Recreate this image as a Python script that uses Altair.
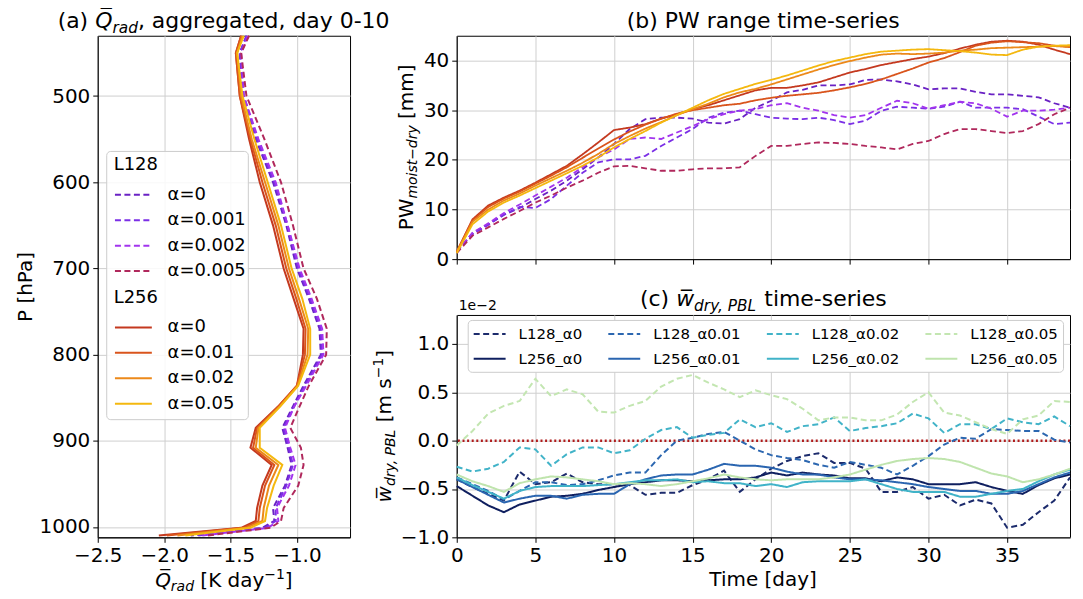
import altair as alt
import pandas as pd

FONT = "DejaVu Sans"

# ---------------- Panel (a): radiative heating profiles ----------------
pressure = [430, 450, 500, 550, 600, 650, 700, 735, 770, 800, 836, 860, 885, 908, 928, 952, 978, 993, 1001, 1010]
L128_labels = ["α=0", "α=0.001", "α=0.002", "α=0.005"]
L256_labels = ["α=0", "α=0.01", "α=0.02", "α=0.05"]
L128_colors = ["#6a22c4", "#7b2fe6", "#a234ee", "#b0285c"]
L256_colors = ["#c4391f", "#d9541c", "#ec891a", "#f4b80f"]

qrad_L128_a0 = [-1.38, -1.43, -1.41, -1.31, -1.18, -1.08, -1.00, -0.91, -0.83, -0.82, -0.95, -1.03, -1.11, -1.07, -1.04, -1.09, -1.18, -1.17, -1.26, -1.80]
qrad_L128_a001 = [-1.38, -1.43, -1.40, -1.30, -1.17, -1.07, -0.99, -0.90, -0.82, -0.81, -0.94, -1.02, -1.10, -1.06, -1.03, -1.08, -1.16, -1.16, -1.24, -1.75]
qrad_L128_a002 = [-1.37, -1.42, -1.40, -1.29, -1.16, -1.07, -0.98, -0.89, -0.81, -0.80, -0.93, -1.02, -1.09, -1.05, -1.01, -1.06, -1.15, -1.14, -1.22, -1.72]
qrad_L128_a005 = [-1.36, -1.42, -1.38, -1.245, -1.12, -1.03, -0.95, -0.85, -0.775, -0.78, -0.91, -0.98, -1.05, -0.97, -0.95, -0.99, -1.10, -1.12, -1.20, -1.68]

qrad_L256_a0 = [-1.42, -1.46, -1.43, -1.36, -1.28, -1.18, -1.10, -1.025, -0.95, -0.955, -1.00, -1.14, -1.31, -1.35, -1.19, -1.26, -1.30, -1.31, -1.42, -2.04]
qrad_L256_a001 = [-1.42, -1.46, -1.43, -1.35, -1.26, -1.16, -1.08, -1.005, -0.935, -0.94, -1.00, -1.14, -1.30, -1.33, -1.17, -1.24, -1.28, -1.29, -1.40, -1.98]
qrad_L256_a002 = [-1.41, -1.45, -1.42, -1.34, -1.24, -1.14, -1.06, -0.985, -0.915, -0.92, -0.995, -1.13, -1.29, -1.31, -1.14, -1.21, -1.25, -1.26, -1.38, -1.90]
qrad_L256_a005 = [-1.40, -1.45, -1.41, -1.32, -1.22, -1.12, -1.04, -0.96, -0.90, -0.90, -0.99, -1.125, -1.28, -1.28, -1.11, -1.175, -1.225, -1.24, -1.35, -1.84]

# ---------------- Panel (b): PW range time series ----------------
days = list(range(40))
pw_L128_a0 = [1.5, 5.2, 7.0, 8.9, 10.3, 12.1, 13.8, 15.8, 18.1, 20.5, 23.2, 26.2, 28.2, 28.5, 28.5, 28.3, 27.5, 27.3, 28.2, 30.5,
              31.9, 33.6, 34.1, 35.0, 35.0, 35.2, 36.1, 36.2, 35.8, 35.2, 34.2, 34.4, 34.4, 33.7, 33.2, 33.2, 32.9, 32.6, 31.4, 30.5]
pw_L128_a001 = [1.5, 5.0, 6.9, 9.0, 10.5, 10.3, 12.1, 14.8, 17.4, 19.5, 20.1, 20.1, 20.8, 22.8, 24.5, 26.2, 28.5, 29.5, 29.9, 29.2,
                28.5, 28.3, 28.2, 28.5, 28.0, 27.2, 27.9, 29.9, 30.7, 30.5, 30.3, 30.7, 31.7, 30.5, 30.5, 30.5, 30.2, 28.7, 27.2, 27.5]
pw_L128_a002 = [1.5, 5.3, 7.2, 9.3, 11.0, 12.8, 14.6, 16.4, 18.5, 20.5, 22.1, 24.2, 24.5, 24.2, 25.5, 26.8, 28.2, 29.2, 29.9, 30.2,
                31.0, 31.4, 30.5, 29.9, 29.0, 28.5, 29.0, 30.5, 31.9, 31.4, 30.3, 31.0, 31.7, 31.4, 30.3, 28.7, 29.9, 29.9, 30.1, 30.5]
pw_L128_a005 = [1.2, 4.7, 6.4, 8.1, 9.7, 11.4, 12.8, 14.4, 15.8, 17.4, 18.7, 18.8, 18.3, 17.8, 17.8, 18.1, 18.3, 18.3, 18.5, 20.8,
                22.8, 22.8, 23.2, 23.5, 23.4, 23.2, 22.8, 22.5, 22.1, 23.2, 23.8, 25.2, 26.2, 26.2, 25.8, 25.4, 25.8, 27.2, 29.2, 30.5]
pw_L256_a0 = [1.5, 8.0, 10.8, 12.4, 13.8, 15.4, 17.1, 18.8, 21.1, 23.5, 26.0, 26.5, 27.2, 28.3, 29.2, 30.2, 31.0, 32.0, 33.0, 34.0,
              34.5, 34.5, 35.0, 35.6, 36.6, 37.6, 38.3, 39.1, 39.7, 40.3, 40.8, 41.5, 42.4, 43.2, 43.8, 44.0, 43.8, 43.2, 42.2, 41.3]
pw_L256_a001 = [1.5, 7.8, 10.5, 12.2, 13.6, 15.2, 16.8, 18.5, 20.4, 22.3, 24.1, 25.7, 27.1, 28.3, 29.3, 30.0, 30.5, 31.0, 31.3, 32.0,
                32.5, 32.9, 33.2, 33.5, 34.0, 34.6, 35.3, 36.2, 37.3, 38.4, 39.6, 40.5, 41.7, 43.0, 43.6, 43.9, 43.7, 43.5, 43.0, 42.7]
pw_L256_a002 = [1.5, 7.5, 10.0, 11.8, 13.2, 14.8, 16.3, 17.8, 19.4, 21.2, 23.2, 24.8, 26.3, 27.6, 29.0, 30.2, 31.3, 32.6, 33.6, 34.3,
                35.2, 36.2, 37.2, 38.2, 39.1, 39.9, 40.6, 41.2, 41.4, 41.3, 41.4, 41.6, 42.0, 42.2, 42.5, 42.6, 42.7, 42.8, 42.9, 42.8]
pw_L256_a005 = [1.2, 7.0, 9.6, 11.4, 12.8, 14.3, 15.8, 17.3, 18.8, 20.5, 22.5, 24.2, 25.8, 27.5, 29.0, 30.5, 32.0, 33.3, 34.3, 35.3,
                36.1, 37.0, 38.0, 39.0, 39.9, 40.6, 41.3, 41.8, 42.0, 42.2, 42.3, 42.1, 41.9, 41.6, 41.2, 41.1, 42.2, 42.8, 43.0, 43.1]

# ---------------- Panel (c): w_dry,PBL time series (x 1e-2) ----------------
# legend order (column-major fill): alpha columns, L128 on top, L256 below
wc_names = ["L128_α0", "L256_α0", "L128_α0.01", "L256_α0.01",
            "L128_α0.02", "L256_α0.02", "L128_α0.05", "L256_α0.05"]
wc_colors = ["#1c2b6c", "#0f1f5f", "#2c67b0", "#2a65b0",
             "#41b3c8", "#40b3c8", "#c3e6b1", "#bfe4ad"]
wc_dash_names = ["L128_α0", "L128_α0.01", "L128_α0.02", "L128_α0.05"]
w_L128_a0 = [-0.40, -0.48, -0.55, -0.62, -0.32, -0.45, -0.43, -0.34, -0.43, -0.45, -0.45, -0.46, -0.56, -0.54, -0.54, -0.46, -0.40, -0.31, -0.53, -0.40,
             -0.29, -0.21, -0.16, -0.13, -0.23, -0.23, -0.29, -0.53, -0.53, -0.48, -0.60, -0.56, -0.67, -0.61, -0.65, -0.90, -0.87, -0.74, -0.62, -0.38]
w_L128_a001 = [-0.38, -0.45, -0.52, -0.61, -0.52, -0.43, -0.43, -0.46, -0.45, -0.41, -0.36, -0.33, -0.33, -0.15, 0.00, 0.03, 0.07, 0.09, 0.00, -0.09,
               -0.15, -0.18, -0.20, -0.25, -0.28, -0.22, -0.25, -0.28, -0.35, -0.26, -0.16, -0.04, 0.03, 0.02, 0.12, 0.11, 0.10, 0.10, 0.01, -0.02]
w_L128_a002 = [-0.27, -0.32, -0.29, -0.22, -0.07, -0.09, -0.26, -0.14, -0.07, -0.07, -0.13, -0.10, 0.02, 0.11, 0.14, 0.03, 0.06, 0.08, 0.22, 0.14,
               0.18, 0.09, 0.15, 0.17, 0.24, 0.10, 0.13, 0.15, 0.18, 0.28, 0.23, 0.08, 0.17, 0.17, 0.12, 0.23, 0.19, 0.17, 0.25, 0.15]
w_L128_a005 = [-0.05, 0.10, 0.28, 0.36, 0.41, 0.64, 0.46, 0.53, 0.48, 0.30, 0.29, 0.36, 0.41, 0.56, 0.64, 0.68, 0.60, 0.53, 0.45, 0.52,
               0.47, 0.43, 0.33, 0.21, 0.24, 0.24, 0.21, 0.21, 0.27, 0.40, 0.50, 0.29, 0.26, 0.19, 0.12, 0.07, 0.22, 0.26, 0.41, 0.40]
w_L256_a0 = [-0.47, -0.57, -0.67, -0.74, -0.66, -0.62, -0.58, -0.57, -0.55, -0.51, -0.48, -0.45, -0.43, -0.41, -0.41, -0.42, -0.41, -0.40, -0.40, -0.38,
             -0.33, -0.36, -0.33, -0.35, -0.36, -0.39, -0.39, -0.42, -0.38, -0.40, -0.45, -0.45, -0.45, -0.43, -0.48, -0.52, -0.55, -0.46, -0.39, -0.35]
w_L256_a001 = [-0.40, -0.48, -0.56, -0.64, -0.60, -0.57, -0.57, -0.60, -0.56, -0.55, -0.55, -0.45, -0.40, -0.36, -0.35, -0.35, -0.30, -0.24, -0.26, -0.26,
               -0.28, -0.32, -0.35, -0.35, -0.38, -0.40, -0.40, -0.41, -0.43, -0.45, -0.48, -0.50, -0.52, -0.52, -0.55, -0.55, -0.52, -0.45, -0.38, -0.33]
w_L256_a002 = [-0.38, -0.46, -0.53, -0.60, -0.52, -0.48, -0.47, -0.47, -0.47, -0.46, -0.45, -0.43, -0.41, -0.41, -0.40, -0.43, -0.42, -0.44, -0.44, -0.47,
               -0.45, -0.48, -0.43, -0.42, -0.42, -0.42, -0.40, -0.45, -0.50, -0.53, -0.53, -0.53, -0.58, -0.58, -0.55, -0.52, -0.50, -0.42, -0.35, -0.30]
w_L256_a005 = [-0.35, -0.42, -0.47, -0.53, -0.44, -0.40, -0.37, -0.38, -0.40, -0.42, -0.45, -0.44, -0.45, -0.47, -0.45, -0.42, -0.39, -0.35, -0.38, -0.40,
               -0.41, -0.40, -0.40, -0.40, -0.38, -0.35, -0.30, -0.25, -0.21, -0.19, -0.18, -0.19, -0.22, -0.28, -0.34, -0.37, -0.43, -0.40, -0.35, -0.29]

DASH = [6, 3.5]
SOLID = [1, 0]

# ---------------- helpers ----------------
W = {' ': .318, '(': .390, ')': .390, ',': .318, '-': .361, '.': .318, '[': .390, ']': .390,
     'a': .613, 'b': .635, 'c': .550, 'd': .635, 'e': .615, 'g': .635, 'h': .634, 'i': .278,
     'k': .579, 'l': .278, 'm': .974, 'n': .634, 'o': .612, 'p': .635, 'r': .411, 's': .521,
     't': .392, 'u': .634, 'w': .818, 'y': .592, 'B': .686, 'K': .656, 'L': .557, 'P': .603,
     'Q': .787, 'T': .611, 'W': .989, '−': .838, '=': .838, 'α': .659, '\u0305': 0.0}
for ch in "0123456789":
    W[ch] = .636


def tw(s, fs):
    return sum(W.get(c, 0.6) for c in s) * fs


ONE = alt.Data(values=[{"k": 0}])


def seg_texts(segs, x, y, angle=0):
    """Place text pieces one after another; spaces are kept as offsets
    (SVG drops leading/trailing blanks)."""
    total = sum(tw(t, fs) for t, fs, it, sh in segs)
    off = -total / 2.0
    layers = []
    for t, fs, it, sh in segs:
        lead = len(t) - len(t.lstrip(" "))
        start = off + tw(" " * lead, fs)
        kw = dict(text=t.strip(" "), fontSize=fs, font=FONT, align="left",
                  baseline="alphabetic", color="black")
        if it:
            kw["fontStyle"] = "italic"
        if angle:
            kw["angle"] = angle
            px, py = x + sh, y - start
        else:
            px, py = x + start, y + sh
        layers.append(alt.Chart(ONE).mark_text(**kw).encode(x=alt.value(px), y=alt.value(py)))
        off += tw(t, fs)
    return layers


def long_df(names, series, xname, xvals, yname):
    rows = []
    for n, s in zip(names, series):
        for xv, yv in zip(xvals, s):
            rows.append({"series": n, xname: xv, yname: yv})
    return pd.DataFrame(rows)


# ---------------- Panel (a) ----------------
WA, HA = 253, 503
dfa128 = long_df(L128_labels, [qrad_L128_a0, qrad_L128_a001, qrad_L128_a002, qrad_L128_a005], "p", pressure, "q")
dfa256 = long_df(L256_labels, [qrad_L256_a0, qrad_L256_a001, qrad_L256_a002, qrad_L256_a005], "p", pressure, "q")

xa = alt.X("q:Q", scale=alt.Scale(domain=[-2.5, -0.6], nice=False, zero=False),
           axis=alt.Axis(values=[-2.5, -2.0, -1.5, -1.0], format=".1f", title=None))
ya = alt.Y("p:Q", scale=alt.Scale(domain=[430, 1012], reverse=True, nice=False, zero=False),
           axis=alt.Axis(values=[500, 600, 700, 800, 900, 1000], format="d", title=None))


def leg_a(title, y, dash):
    kw = dict(title=title, orient="none", legendX=16, legendY=y, padding=0,
              symbolType="M-1,0L3,0", symbolSize=342, symbolStrokeWidth=2,
              labelOffset=33, rowPadding=5.5, titlePadding=10,
              labelFont=FONT, labelFontSize=18, labelColor="black",
              titleFont=FONT, titleFontSize=18, titleFontWeight="normal", titleColor="black")
    if dash:
        kw["symbolDash"] = DASH
    return alt.Legend(**kw)


frame_a = alt.Chart(ONE).mark_rect(fill="white", fillOpacity=0.85, stroke="#cccccc",
                                   strokeWidth=1, cornerRadius=4).encode(
    x=alt.value(9), x2=alt.value(151), y=alt.value(116), y2=alt.value(385))

lines_a128 = alt.Chart(dfa128).mark_line(strokeDash=DASH, strokeWidth=2).encode(
    x=xa, y=ya, order="p:Q",
    color=alt.Color("series:N", scale=alt.Scale(domain=L128_labels, range=L128_colors),
                    legend=leg_a("L128", 121, True)))
lines_a256 = alt.Chart(dfa256).mark_line(strokeWidth=2).encode(
    x=xa, y=ya, order="p:Q",
    color=alt.Color("series:N", scale=alt.Scale(domain=L256_labels, range=L256_colors),
                    legend=leg_a("L256", 254, False)))

texts_a = (
    seg_texts([("(a) ", 22, False, 0), ("Q\u0305", 22, True, 0), ("rad", 15.4, True, 5),
               (", aggregated, day 0-10", 22, False, 0)], WA / 2, -8)
    + seg_texts([("Q\u0305", 20, True, 0), ("rad", 14, True, 4), (" [K day", 20, False, 0),
                 ("−1", 14, False, -8), ("]", 20, False, 0)], WA / 2, HA + 50)
    + seg_texts([("P [hPa]", 20, False, 0)], -66, HA / 2, angle=270)
)

panelA = alt.layer(frame_a, lines_a128, lines_a256, *texts_a).resolve_scale(
    color="independent").properties(width=WA, height=HA)

# ---------------- Panel (b) ----------------
WB, HB = 615, 224
b_names = ["L128 " + s for s in L128_labels] + ["L256 " + s for s in L256_labels]
dfb = long_df(b_names,
              [pw_L128_a0, pw_L128_a001, pw_L128_a002, pw_L128_a005,
               pw_L256_a0, pw_L256_a001, pw_L256_a002, pw_L256_a005], "day", days, "pw")
lines_b = alt.Chart(dfb).mark_line(strokeWidth=1.8).encode(
    x=alt.X("day:Q", scale=alt.Scale(domain=[0, 39], nice=False, zero=False),
            axis=alt.Axis(values=list(range(0, 36, 5)), labels=False, title=None)),
    y=alt.Y("pw:Q", scale=alt.Scale(domain=[0, 45], nice=False, zero=False),
            axis=alt.Axis(values=[0, 10, 20, 30, 40], format="d", title=None)),
    color=alt.Color("series:N", scale=alt.Scale(domain=b_names, range=L128_colors + L256_colors), legend=None),
    strokeDash=alt.StrokeDash("series:N", scale=alt.Scale(domain=b_names, range=[DASH] * 4 + [SOLID] * 4), legend=None),
)
texts_b = (
    seg_texts([("(b) PW range time-series", 22, False, 0)], WB / 2, -8)
    + seg_texts([("PW", 20, False, 0), ("moist−dry", 14, True, 4.5), (" [mm]", 20, False, 0)],
                -44, HB / 2, angle=270)
)
panelB = alt.layer(lines_b, *texts_b).properties(width=WB, height=HB)

# ---------------- Panel (c) ----------------
WC, HC = 615, 223
dfc = long_df(["L128_α0", "L128_α0.01", "L128_α0.02", "L128_α0.05",
               "L256_α0", "L256_α0.01", "L256_α0.02", "L256_α0.05"],
              [w_L128_a0, w_L128_a001, w_L128_a002, w_L128_a005,
               w_L256_a0, w_L256_a001, w_L256_a002, w_L256_a005], "day", days, "w")
leg_c = alt.Legend(orient="none", legendX=11, legendY=5, columns=4, padding=5,
                   fillColor="white", strokeColor="#cccccc", cornerRadius=4,
                   symbolType="M-1,0L3,0", symbolSize=256, symbolStrokeWidth=2,
                   labelOffset=28, columnPadding=22, rowPadding=8,
                   labelFont=FONT, labelFontSize=15, labelColor="black")
xc = alt.X("day:Q", scale=alt.Scale(domain=[0, 39], nice=False, zero=False),
           axis=alt.Axis(values=list(range(0, 36, 5)), format="d", title=None))
yc = alt.Y("w:Q", scale=alt.Scale(domain=[-1.0, 1.3], nice=False, zero=False),
           axis=alt.Axis(values=[-1.0, -0.5, 0.0, 0.5, 1.0], format=".1f", title=None))
dash_range = [DASH if n in wc_dash_names else SOLID for n in wc_names]
lines_c = alt.Chart(dfc).mark_line(strokeWidth=2).encode(
    x=xc, y=yc,
    color=alt.Color("series:N", scale=alt.Scale(domain=wc_names, range=wc_colors), legend=leg_c, title=None),
    strokeDash=alt.StrokeDash("series:N", scale=alt.Scale(domain=wc_names, range=dash_range),
                              legend=leg_c, title=None),
)
zero_c = alt.Chart(alt.Data(values=[{"w": 0.0}])).mark_rule(
    color="#b01c1c", strokeWidth=2.5, strokeDash=[2, 2.6]).encode(y=alt.Y("w:Q"))
sci_c = alt.Chart(ONE).mark_text(text="1e−2", fontSize=14, font=FONT, align="left",
                                 baseline="alphabetic", color="black").encode(
    x=alt.value(2), y=alt.value(-5))
texts_c = (
    seg_texts([("(c) ", 22, False, 0), ("w\u0305", 22, True, 0), ("dry, PBL", 15.4, True, 5),
               (" time-series", 22, False, 0)], WC / 2, -9)
    + seg_texts([("w\u0305", 20, True, 0), ("dry, PBL", 14, True, 4.5), (" [m s", 20, False, 0),
                 ("−1", 14, False, -8), ("]", 20, False, 0)], -66, HC / 2, angle=270)
    + seg_texts([("Time [day]", 20, False, 0)], WC / 2, HC + 49)
)
panelC = alt.layer(zero_c, lines_c, sci_c, *texts_c).properties(width=WC, height=HC)

right = alt.vconcat(panelB, panelC, spacing=56, bounds="flush").resolve_scale(
    x="independent", y="independent", color="independent", strokeDash="independent")

chart = alt.hconcat(panelA, right, spacing=107, bounds="flush").resolve_scale(
    x="independent", y="independent", color="independent", strokeDash="independent"
).properties(
    padding={"left": 7, "top": 0, "right": 0, "bottom": 0},
).configure_axis(
    domainColor="black", domainWidth=1, tickColor="black", tickSize=5, tickWidth=1,
    labelFont=FONT, labelFontSize=20, labelColor="black", labelPadding=3, labelFlush=False,
    gridColor="#cfcfcf", gridWidth=1, grid=True,
).configure_view(stroke="black", strokeWidth=1)

chart.save("out.html", embed_options={"renderer": "svg", "actions": False})
